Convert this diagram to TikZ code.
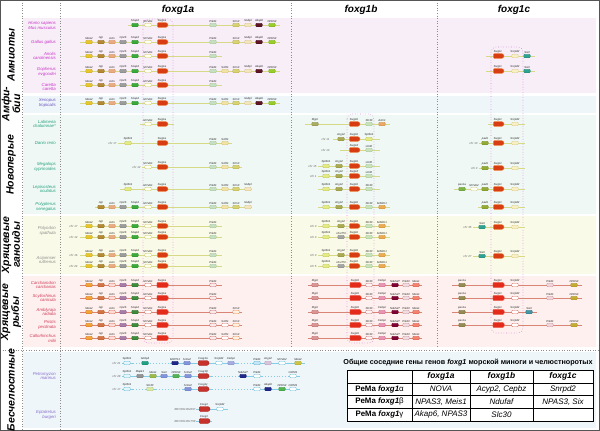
\documentclass[tikz,border=0pt]{standalone}
\usepackage{fontspec}
\setmainfont{Liberation Sans}
\usetikzlibrary{shapes.symbols}
\newcommand\gcol[3]{\definecolor{#1F}{HTML}{#2}\definecolor{#1D}{HTML}{#3}\tikzset{#1/.style={fill=#1F,draw=#1D}}}
\gcol{qMeis}{E6C62A}{C4A41C}
\gcol{qAgr}{B48A34}{8E6A22}
\gcol{qActn}{E9AC80}{CF8C5C}
\gcol{qCp}{9C9C9C}{7A7A7A}
\gcol{qSnap}{3AAA3A}{238A23}
\gcol{qNova}{FFFFF0}{C9C45A}
\gcol{qPrkd}{C6DFC0}{9FC296}
\gcol{qScfd}{F2E3A4}{D2BC74}
\gcol{qStrn}{D9D274}{B3AA44}
\gcol{qNubpl}{F4E6BC}{D2BC86}
\gcol{qAkap}{5E1626}{3E0616}
\gcol{qNpas}{9ACD2A}{72A81A}
\gcol{qMyo}{A9AC64}{8A8C44}
\gcol{qSlc}{C9E2BA}{9FC292}
\gcol{qActo}{EBA866}{CC8844}
\gcol{qAcyp}{ABAA54}{8A8A34}
\gcol{qSptb}{E4EA84}{BCC254}
\gcol{qMark}{EBAA54}{CC8834}
\gcol{qCorf}{A4A4A4}{848484}
\gcol{qSnrp}{F8F0C4}{D8C884}
\gcol{qSix}{2FA292}{1F8272}
\gcol{qPax}{93AA36}{738A22}
\gcol{qPaxg}{7DB446}{5D9430}
\gcol{qNovW}{FFFFF4}{C8C888}
\gcol{rMeis}{F2A434}{D46A22}
\gcol{rAgr}{D27444}{B05424}
\gcol{rActn}{FCDCD4}{D46454}
\gcol{rCp}{A87CA8}{845884}
\gcol{rSnap}{3C8C3C}{226A22}
\gcol{rNova}{FFFFFF}{D46454}
\gcol{rPrkd}{FAEAEA}{C46464}
\gcol{rScfd}{FFFFFF}{D87060}
\gcol{rStrn}{FFF2E4}{E08444}
\gcol{rMyo}{DA9494}{B46464}
\gcol{rSlc}{FFF2F2}{C47474}
\gcol{rCeb}{EA94B4}{C46484}
\gcol{rNduf}{800034}{600020}
\gcol{rPrkdt}{F2DAE2}{C49494}
\gcol{rMeisa}{F2846F}{D45444}
\gcol{rPax}{948C54}{746C34}
\gcol{rSnrp}{FFFFFF}{D46454}
\gcol{rPrkdc}{F2D4DC}{C49494}
\gcol{rNpas}{C4AC34}{A48C1C}
\gcol{rSix}{4694A4}{267484}
\gcol{lSptb}{E4F6FA}{5CB8D2}
\gcol{lGnb}{22A282}{128262}
\gcol{lNav}{22288A}{121868}
\gcol{lPer}{8494DA}{6474BA}
\gcol{lWc}{FFFFFF}{5CB8D2}
\gcol{lCeb}{A4ACE2}{848CC2}
\gcol{lPrkd}{C4E6F6}{5CB2D2}
\gcol{lAcyp}{DAC4DA}{B494B4}
\gcol{lMeisb}{CCC444}{A4A424}
\gcol{lGray}{949494}{747474}
\gcol{lMeisa}{9ABA4C}{7A9A2C}
\gcol{lGreen}{54B454}{349434}
\gcol{lSlc}{DAEAA4}{B2C274}
\definecolor{lnAc}{HTML}{D6DA86}
\definecolor{lnRc}{HTML}{D98474}
\definecolor{lnLc}{HTML}{86CCE4}
\definecolor{bgAm}{HTML}{F8EEF8}
\definecolor{bgAmph}{HTML}{EEF6FA}
\definecolor{bgNeo}{HTML}{EFF8F4}
\definecolor{bgChon}{HTML}{FAFAE8}
\definecolor{bgChr}{HTML}{FDF0EE}
\definecolor{bgAg}{HTML}{EEF6FA}
\definecolor{spAm}{HTML}{C832C8}
\definecolor{spX}{HTML}{6A50C0}
\definecolor{spN}{HTML}{22A07E}
\definecolor{spC}{HTML}{8C8C8C}
\definecolor{spR}{HTML}{D23A5A}
\definecolor{spL}{HTML}{8A6ACA}
\definecolor{pinkb}{HTML}{D888D8}
\definecolor{framec}{HTML}{555555}
\newcommand\genes[2]{\foreach \gx/\gs/\gt in #2 {\node[gene,\gs,label={[glab]90:\gt}] (n\gx-#1) at (\gx,#1) {};}}
\newcommand\rline[4]{\draw[rowline,#4] (#2,#1) -- (#3,#1);}
\def\LA{89/qMeis/Meis2,101/qAgr/Agr,112/qActn/Actn,123/qCp/Cp2b,135/qSnap/Snap4,148/qNova/NOVA1,162/fxa/foxg1a}
\def\RA{213/qPrkd/Prkd1,236/qStrn/Strn3,248/qNubpl/Nubpl,259/qAkap/Akap6,272/qNpas/NPAS3}
\def\RAs{213/qPrkd/Prkd1,225/qScfd/Scfd1,236/qStrn/Strn3,248/qNubpl/Nubpl,259/qAkap/Akap6,272/qNpas/NPAS3}
\def\CA{498/fxa/foxg1c,515/qSnrp/Snrpd2,527/qSix/Six3}
\def\BCa{326/qSptb/Sptbn1,341/qAcyp/Acyp2,354/fxa/foxg1b,369/qSlc/Slc30,382/qMark/MARK1}
\def\BCb{326/qSptb/Sptbn1,341/qCorf/c2orf73,354/fxa/foxg1b,369/qSlc/Slc30,382/qMark/MARK1}
\def\CC{482/qSix/Six3,498/fxa/foxg1c,515/qSnrp/Snrpd2}
\def\LR{89/rMeis/Meis2,101/rAgr/Agr,112/rActn/Actn,123/rCp/Cp2b,135/rSnap/Snap4,148/rNova/NOVA1,162/fxr/foxg1a}
\def\BR{315/rMyo/Mypt,355/fxr/foxg1b,369/rSlc/Slc30,382/rCeb/Cebpz,395/rNduf/Ndufaf7,406/rPrkdt/Prkd3,416/rMeisa/Meis1}
\def\CR{462/rPax/pax1a,498/fxr/foxg1c,515/rSnrp/Snrpd2,550/rPrkdc/Prkd1,574/rNpas/NPAS3}
\begin{document}
\begin{tikzpicture}[x=1pt,y=-1pt,
  gene/.style={rectangle,rounded corners=0.9pt,minimum width=6.5pt,minimum height=3.5pt,inner sep=0pt,line width=0.35pt},
  fxa/.style={shape=signal,signal to=east,signal pointer angle=110,minimum width=11pt,minimum height=4.8pt,fill={rgb,255:red,216;green,60;blue,18},draw={rgb,255:red,240;green,132;blue,68}},
  fxr/.style={shape=signal,signal to=east,signal pointer angle=110,minimum width=12pt,minimum height=5.4pt,fill={rgb,255:red,228;green,42;blue,26},draw={rgb,255:red,240;green,100;blue,80}},
  fxl/.style={shape=signal,signal to=east,signal pointer angle=110,minimum width=11pt,minimum height=5pt,fill={rgb,255:red,200;green,50;blue,44},draw={rgb,255:red,168;green,36;blue,32}},
  glab/.style={font=\fontsize{2.8}{3}\selectfont\itshape,inner sep=0.3pt,text=black!85},
  chrl/.style={font=\fontsize{2.9}{3}\selectfont\itshape,inner sep=0.3pt,text=black!60,anchor=east},
  sp/.style={font=\fontsize{4.3}{4.9}\selectfont\itshape,inner sep=0pt,anchor=east,align=right},
  grp/.style={font=\fontsize{10.5}{9.5}\selectfont\bfseries\itshape,rotate=90,align=center,inner sep=0pt},
  hdr/.style={font=\fontsize{10}{10}\selectfont\bfseries\itshape,inner sep=0pt},
  rowline/.style={line width=0.9pt},
  lnA/.style={draw=lnAc},
  lnR/.style={draw=lnRc},
  lnL/.style={draw=lnLc},
  dotl/.style={draw=black!45,dotted,line width=0.6pt},
  pinkbox/.style={draw=pinkb,dotted,line width=0.6pt,rounded corners=5pt},
  tabl/.style={draw=black,line width=0.6pt},
  tcell/.style={font=\fontsize{8}{9}\selectfont\itshape,inner sep=0pt},
  thead/.style={font=\fontsize{8.4}{9}\selectfont\bfseries\itshape,inner sep=0pt},
  trow/.style={font=\fontsize{7.9}{9}\selectfont,inner sep=0pt}
]
\useasboundingbox (0,0) rectangle (600,431);
% backgrounds
\fill[bgAm] (23,18) rectangle (596,93);
\fill[bgAmph] (23,96) rectangle (596,113);
\fill[bgNeo] (23,115) rectangle (596,214);
\fill[bgChon] (23,216) rectangle (596,274);
\fill[bgChr] (23,276) rectangle (596,347);
\fill[bgAg] (23,352) rectangle (596,428);
% separators
\draw[dotl] (22,0) -- (22,431);
\draw[dotl] (60,0) -- (60,431);
\draw[dotl] (291,0) -- (291,348);
\draw[dotl] (437,0) -- (437,348);
\draw[dotl] (0,350) -- (600,350);
\draw[line width=1.3pt,draw=framec] (0.65,0.65) rectangle (599.35,430.35);
% headers
\node[hdr] (h1) at (178,10) {foxg1a};
\node[hdr] (h2) at (361,10) {foxg1b};
\node[hdr] (h3) at (514,10) {foxg1c};
% group labels
\node[grp] (g1) at (11,55) {Амниоты};
\node[grp] (g2) at (11,104) {Амфи-\\бии};
\node[grp] (g3) at (11,165) {Новоперые};
\node[grp] (g4) at (11,245) {Хрящевые\\ганоиды};
\node[grp] (g5) at (11,312) {Хрящевые\\рыбы};
\node[grp] (g6) at (11,390) {Бесчелюстные};
% highlight boxes
\draw[pinkbox] (143,19) rectangle (173,343);
\draw[pinkbox] (347,114) rectangle (374,343);
\draw[pinkbox] (491,47) rectangle (523,333);
% species
\node[sp,text=spAm] (s1) at (56,25.5) {Homo sapiens\\Mus musculus};
\node[sp,text=spAm] (s2) at (56,42) {Gallus gallus};
\node[sp,text=spAm] (s3) at (56,56) {Anolis\\carolinensis};
\node[sp,text=spAm] (s4) at (56,72) {Gopherus\\evgoodei};
\node[sp,text=spAm] (s5) at (56,87) {Caretta\\caretta};
\node[sp,text=spX] (s6) at (56,103) {Xenopus\\tropicalis};
\node[sp,text=spN] (s7) at (56,124) {Latimeria\\chalumnae*};
\node[sp,text=spN] (s8) at (56,143) {Danio rerio};
\node[sp,text=spN] (s9) at (56,167) {Megalops\\cyprinoides};
\node[sp,text=spN] (s10) at (56,189) {Lepisosteus\\oculatus};
\node[sp,text=spN] (s11) at (56,207) {Polypterus\\senegalus};
\node[sp,text=spC] (s12) at (56,231) {Polyodon\\spathula};
\node[sp,text=spC] (s13) at (56,260) {Acipenser\\ruthenus};
\node[sp,text=spR] (s14) at (56,285) {Carcharodon\\carcharias};
\node[sp,text=spR] (s15) at (56,298) {Scyliorhinus\\canicula};
\node[sp,text=spR] (s16) at (56,312) {Amblyraja\\radiata};
\node[sp,text=spR] (s17) at (56,325) {Pristis\\pectinata};
\node[sp,text=spR] (s18) at (56,338) {Callorhinchus\\milii};
\node[sp,text=spL] (s19) at (56,376) {Petromyzon\\marinus};
\node[sp,text=spL] (s20) at (56,415) {Eptatretus\\burgeri};
% ---- amniotes
\rline{25}{128}{280}{lnA}\genes{25}{{135/qSnap/Snap4,148/qNova/NOVA1,162/fxa/foxg1a}}\genes{25}{\RA}
\rline{42}{80}{280}{lnA}\genes{42}{\LA}\genes{42}{\RA}
\rline{56}{80}{222}{lnA}\genes{56}{\LA}\genes{56}{{213/qPrkd/Prkd1}}
\rline{56}{486}{535}{lnA}\genes{56}{\CA}
\rline{71}{80}{280}{lnA}\genes{71}{\LA}\genes{71}{\RAs}
\rline{71}{486}{535}{lnA}\genes{71}{\CA}
\rline{85}{80}{222}{lnA}\genes{85}{\LA}\genes{85}{{213/qPrkd/Prkd1}}
\rline{103}{80}{280}{lnA}\genes{103}{\LA}\genes{103}{\RAs}
% ---- Latimeria
\rline{124}{140}{174}{lnA}\genes{124}{{148/qNova/NOVA1,162/fxa/foxg1a}}
\rline{124}{305}{390}{lnA}\genes{124}{{315/qMyo/Mypt,354/fxa/foxg1b,369/qSlc/Slc30,382/qActo/Actn1}}
\rline{124}{488}{525}{lnA}\genes{124}{{498/fxa/foxg1c,515/qSnrp/Snrpd2}}
% ---- Danio
\node[chrl] (c1) at (117,143) {chr 17};
\rline{143}{118}{232}{lnA}\genes{143}{{128/qSptb/Sptbn1,162/fxa/foxg1a,213/qPrkd/Prkd1,225/qScfd/Scfd1}}
\node[chrl] (c2) at (330,139) {chr 11};
\rline{139}{333}{380}{lnA}\genes{139}{{341/qAcyp/Acyp2,354/fxa/foxg1b,369/qSptb/Sptbn1}}
\node[chrl] (c3) at (330,150) {chr 13};
\rline{150}{340}{380}{lnA}\genes{150}{{354/fxa/foxg1d,369/qSlc/slc30}}
\node[chrl] (c4) at (478,143) {chr 10};
\rline{143}{479}{525}{lnA}\genes{143}{{485/qPax/pax9,498/fxa/foxg1c,515/qSnrp/Snrpd2}}
% ---- Megalops
\node[chrl] (c5) at (141,167) {chr 12};
\rline{167}{142}{242}{lnA}\genes{167}{{148/qNova/NOVA1,162/fxa/foxg1a,213/qPrkd/Prkd1,225/qScfd/Scfd1,236/qStrn/Strn3}}
\node[chrl] (c6) at (317,166) {chr 15};
\rline{166}{318}{380}{lnA}\genes{166}{{326/qSptb/Sptbn1,339/qAcyp/Acyp2,354/fxa/foxg1b,369/qSlc/slc30}}
\node[chrl] (c7) at (317,176) {chr 1};
\rline{176}{318}{380}{lnA}\genes{176}{{326/qSptb/Sptbn1,339/qAcyp/Acyp2,354/fxa/foxg1d,369/qSlc/slc30}}
\node[chrl] (c8) at (478,168) {chr 3};
\rline{168}{479}{525}{lnA}\genes{168}{{485/qPax/pax9,498/fxa/foxg1c,515/qSnrp/Snrpd2}}
% ---- Lepisosteus
\rline{189}{120}{252}{lnA}\genes{189}{{128/qSptb/Sptbn1,148/qNova/NOVA1,162/fxa/foxg1a,213/qPrkd/Prkd1,225/qScfd/Scfd1,236/qStrn/Strn3,248/qNubpl/Nubpl}}
\rline{189}{318}{380}{lnA}\genes{189}{{326/qSptb/Sptbn1,339/qAcyp/Acyp2,354/fxa/foxg1b,369/qSlc/Slc30}}
\rline{189}{454}{525}{lnA}\genes{189}{{462/qPaxg/pax1a,474/qNovW/NOVA2,485/qPax/pax9,498/fxa/foxg1c,515/qSnrp/Snrpd2}}
% ---- Polypterus
\rline{207}{95}{252}{lnA}\genes{207}{{101/qAgr/Agr,112/qActn/Actn,123/qCp/Cp2b,135/qSnap/Snap4,148/qNova/NOVA1,162/fxa/foxg1a,213/qPrkd/Prkd1,225/qScfd/Scfd1,236/qStrn/Strn3,248/qNubpl/Nubpl}}
\rline{207}{318}{390}{lnA}\genes{207}{{326/qSptb/Sptbn1,339/qAcyp/Acyp2,354/fxa/foxg1b,369/qSlc/Slc30,382/qMark/MARK1}}
\rline{207}{478}{525}{lnA}\genes{207}{{485/qPax/pax9,498/fxa/foxg1c,515/qSnrp/Snrpd2}}
% ---- Chondrostei
\node[chrl] (c9) at (78,226) {chr 17};
\rline{226}{80}{222}{lnA}\genes{226}{\LA}\genes{226}{{213/qPrkd/Prkd1}}
\node[chrl] (c10) at (317,226) {chr 3};
\rline{226}{318}{390}{lnA}\genes{226}{\BCa}
\node[chrl] (c11) at (472,227) {chr 35};
\rline{227}{473}{525}{lnA}\genes{227}{\CC}
\node[chrl] (c12) at (78,237) {chr 12};
\rline{237}{80}{222}{lnA}\genes{237}{\LA}\genes{237}{{213/qPrkd/Prkd1}}
\node[chrl] (c13) at (317,237) {chr 3};
\rline{237}{318}{390}{lnA}\genes{237}{\BCb}
\node[chrl] (c14) at (78,255) {chr 16};
\rline{255}{80}{222}{lnA}\genes{255}{\LA}\genes{255}{{213/qPrkd/Prkd1}}
\node[chrl] (c15) at (317,255) {chr 3};
\rline{255}{318}{390}{lnA}\genes{255}{\BCa}
\node[chrl] (c16) at (472,256) {chr 27};
\rline{256}{473}{525}{lnA}\genes{256}{\CC}
\node[chrl] (c17) at (78,266) {chr 24};
\rline{266}{80}{222}{lnA}\genes{266}{\LA}\genes{266}{{213/qPrkd/Prkd1}}
\node[chrl] (c18) at (317,266) {chr 5};
\rline{266}{318}{390}{lnA}\genes{266}{\BCb}
% ---- Chondrichthyes
\rline{285}{80}{222}{lnR}\genes{285}{\LR}\genes{285}{{213/rPrkd/Prkd1}}
\rline{285}{308}{422}{lnR}\genes{285}{\BR}
\rline{285}{452}{582}{lnR}\genes{285}{\CR}
\rline{298}{80}{222}{lnR}\genes{298}{\LR}\genes{298}{{213/rPrkd/Prkd1}}
\rline{298}{308}{422}{lnR}\genes{298}{\BR}
\rline{298}{452}{582}{lnR}\genes{298}{\CR}
\rline{312}{80}{242}{lnR}\genes{312}{\LR}\genes{312}{{213/rPrkd/Prkd1,236/rStrn/Strn3}}
\rline{312}{308}{422}{lnR}\genes{312}{\BR}
\rline{312}{452}{537}{lnR}\genes{312}{{462/rPax/pax1a,498/fxr/foxg1c,515/rSnrp/Snrpd2,529/rSix/Six3}}
\rline{325}{80}{242}{lnR}\genes{325}{\LR}\genes{325}{{213/rPrkd/Prkd1,225/rScfd/Scfd1,236/rStrn/Strn3}}
\rline{325}{308}{422}{lnR}\genes{325}{\BR}
\rline{325}{452}{582}{lnR}\genes{325}{\CR}
\rline{338}{80}{242}{lnR}\genes{338}{\LR}\genes{338}{{213/rPrkd/Prkd1,225/rScfd/Scfd1,236/rStrn/Strn3}}
\rline{338}{308}{422}{lnR}\genes{338}{\BR}
% ---- Agnatha
\node[chrl] (c19) at (121,363) {chr 21};
\rline{363}{122}{133}{lnL}\draw[rowline,lnL,dotted] (133,363) -- (170,363);
\rline{363}{170}{238}{lnL}\draw[rowline,lnL,dotted] (238,363) -- (252,363);
\rline{363}{252}{305}{lnL}
\genes{363}{{127/lSptb/Sptbn1,145/lGnb/Gnbp4,175/lNav/MRPS3,187/lPer/Srmx2,203/fxl/Foxg1α,219/lWc/Snrpd2,231/lCeb/Cebpz,257/lPrkd/Prkd1,268/lAcyp/Acyp2,282/lWc/NOVA2,298/lMeisb/Meis2}}
\node[chrl] (c20) at (121,376) {chr 28};
\rline{376}{122}{212}{lnL}\draw[rowline,lnL,dotted] (212,376) -- (238,376);
\rline{376}{238}{262}{lnL}\draw[rowline,lnL,dotted] (262,376) -- (288,376);
\rline{376}{288}{300}{lnL}
\genes{376}{{127/lSptb/Sptbn1,140/lGray/Mapk1,153/lMeisa/Meis1,164/lPer/Six3,176/lGreen/NPAS3,188/lPer/Srmx2,203/fxl/Foxg1β,243/lNav/Ndufaf7,257/lWc/Prkd1,293/lWc/CRIM1}}
\node[chrl] (c21) at (121,389) {chr 17};
\rline{389}{122}{133}{lnL}\draw[rowline,lnL,dotted] (133,389) -- (145,389);
\rline{389}{145}{156}{lnL}\draw[rowline,lnL,dotted] (156,389) -- (182,389);
\rline{389}{182}{212}{lnL}\draw[rowline,lnL,dotted] (212,389) -- (252,389);
\rline{389}{252}{300}{lnL}
\genes{389}{{127/lSptb/Sptbn1,150/lSlc/Slc30,188/lPer/Srmx2,203/fxl/Foxg1γ,257/lWc/Prkd1,268/lNav/Akap6,282/lGreen/NPAS3,293/lWc/CRIM1}}
\node[chrl] (c22) at (196,409) {BROF01002297};
\rline{409}{196}{228}{lnL}\genes{409}{{204/fxl/Foxg1,220/lWc/Snrpd2}}
\node[chrl] (c23) at (196,421) {BROF01001758};
\rline{421}{196}{212}{lnL}\genes{421}{{204/fxl/Foxg1}}
% ---- table
\node[font=\fontsize{7.2}{8}\selectfont\bfseries,inner sep=0pt] (tt) at (468,363) {Общие соседние гены генов \textit{foxg1} морской миноги и челюстноротых};
\fill[white] (347,370) rectangle (593,421);
\draw[tabl] (347,370) rectangle (593,421);
\draw[tabl] (347,383) -- (593,383);
\draw[tabl] (347,395.5) -- (593,395.5);
\draw[tabl] (347,408) -- (593,408);
\draw[tabl] (412,370) -- (412,421);
\draw[tabl] (470,370) -- (470,421);
\draw[tabl] (533,370) -- (533,421);
\node[thead] (t01) at (441,376.5) {foxg1a};
\node[thead] (t02) at (501.5,376.5) {foxg1b};
\node[thead] (t03) at (563,376.5) {foxg1c};
\node[trow] (t10) at (379.5,389.2) {\textbf{PeMa \textit{foxg1}}α};
\node[trow] (t20) at (379.5,401.7) {\textbf{PeMa \textit{foxg1}}β};
\node[trow] (t30) at (379.5,414.5) {\textbf{PeMa \textit{foxg1}}γ};
\node[tcell] (t11) at (441,389.2) {NOVA};
\node[tcell] (t12) at (501.5,389.2) {Acyp2, Cepbz};
\node[tcell] (t13) at (563,389.2) {Snrpd2};
\node[tcell] (t21) at (441,401.7) {NPAS3, Meis1};
\node[tcell] (t22) at (501.5,401.7) {Ndufaf};
\node[tcell] (t23) at (563,401.7) {NPAS3, Six};
\node[tcell] (t31) at (441,414.5) {Akap6, NPAS3};
\node[tcell] (t32) at (501.5,414.5) {Slc30};
\end{tikzpicture}
\end{document}
